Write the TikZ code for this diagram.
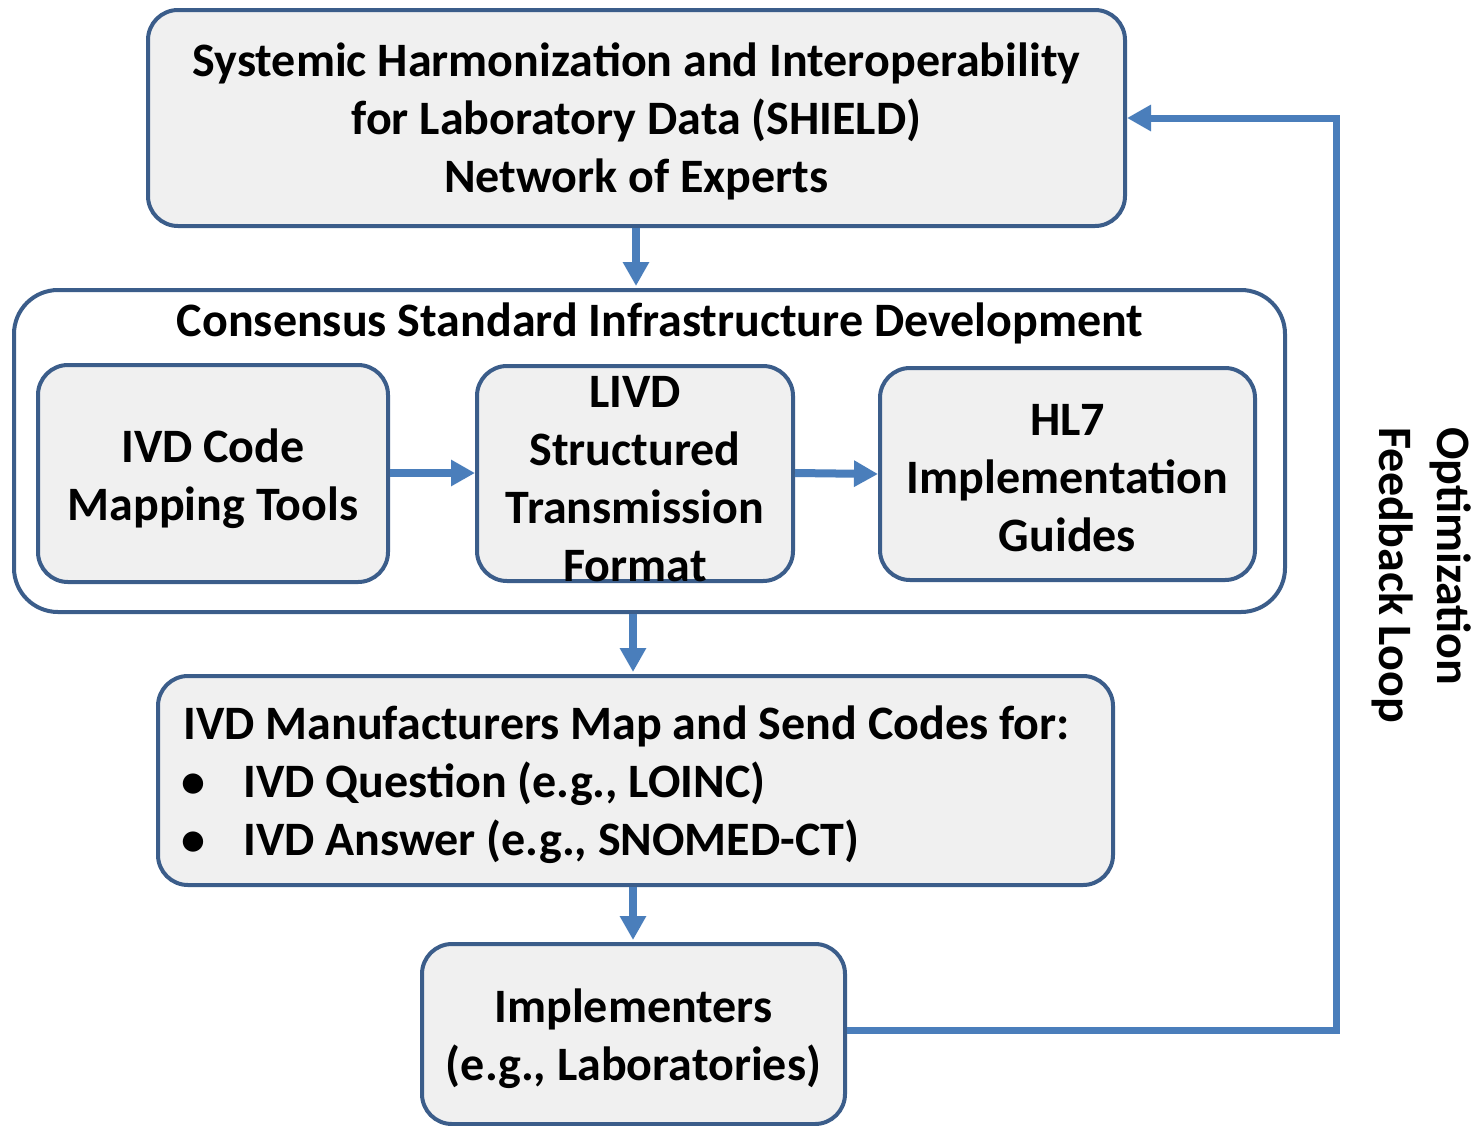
\documentclass[tikz,border=0pt]{standalone}
\usepackage{fontspec}
\setmainfont{Carlito}
\usetikzlibrary{arrows.meta}
\definecolor{bordc}{HTML}{3B5D8A}
\definecolor{arrc}{HTML}{4A7EBB}
\definecolor{boxfill}{HTML}{F0F0F0}
\tikzset{
  box/.style={draw=bordc, line width=2pt, rounded corners=15pt, fill=boxfill, inner sep=0pt},
  txt/.style={font=\fontsize{24}{29}\selectfont\bfseries, align=center, inner sep=0pt},
  flow/.style={draw=arrc, line width=4pt, -{Triangle[length=12pt,width=12.5pt]}},
}
\begin{document}
\begin{tikzpicture}[x=0.5pt,y=-0.5pt]
\useasboundingbox (0,0) rectangle (1477,1125);
% top box
\node[box, minimum width=488.5pt, minimum height=108pt] (top) at (636.5,118) {};
\node[txt] (toptxt) at (636.5,121) {Systemic Harmonization and Interoperability\\for Laboratory Data (SHIELD)\\Network of Experts};
% container
\node[box, fill=white, rounded corners=22pt, minimum width=635.5pt, minimum height=161pt] (cont) at (649.5,451) {};
\node[txt, anchor=base] (conttxt) at (660,336) {Consensus Standard Infrastructure Development};
% inner boxes
\node[box, minimum width=175pt, minimum height=108.5pt] (ivd) at (213,473.5) {};
\node[txt] (ivdtxt) at (213,479) {IVD Code\\Mapping Tools};
\node[box, minimum width=158pt, minimum height=107.5pt] (livd) at (635,473.5) {};
\node[txt] (livdtxt) at (635,479) {LIVD\\Structured\\Transmission\\Format};
\node[box, minimum width=187.5pt, minimum height=106pt] (hl7) at (1067.5,474) {};
\node[txt] (hl7txt) at (1067.5,478.5) {HL7\\Implementation\\Guides};
% manufacturers
\node[box, minimum width=477.5pt, minimum height=104.5pt] (manu) at (635.5,780.5) {};
\node[txt, align=left, anchor=west] (manutxt) at (183,785) {IVD Manufacturers Map and Send Codes for:\\
\makebox[30pt][l]{\hspace{-1pt}\textbullet}IVD Question (e.g., LOINC)\\
\makebox[30pt][l]{\hspace{-1pt}\textbullet}IVD Answer (e.g., SNOMED-CT)};
% implementers
\node[box, minimum width=211.5pt, minimum height=90pt] (impl) at (633.5,1034) {};
\node[txt] (impltxt) at (633.5,1039) {Implementers\\(e.g., Laboratories)};
% arrows
\draw[flow] (top.south -| 636,0) -- (636,286);
\draw[flow] (cont.south -| 633,0) -- (633,672);
\draw[flow] (manu.south -| 633,0) -- (633,940);
\draw[flow] (ivd.east |- 0,473) -- (livd.west |- 0,473);
\draw[flow] (livd.east |- 0,473) -- (hl7.west |- 0,474);
\coordinate (fb1) at (1336,1030);
\coordinate (fb2) at (1336,118);
\draw[draw=arrc, line width=3.5pt, -{Triangle[length=12pt,width=12.5pt]}] (impl.east |- fb1) -- (fb1) -- (fb2) -- (top.east |- fb2);
% feedback label
\node[txt, align=left, rotate=-90] (fblabel) at (1422,575) {Optimization\\Feedback Loop};
\end{tikzpicture}
\end{document}
